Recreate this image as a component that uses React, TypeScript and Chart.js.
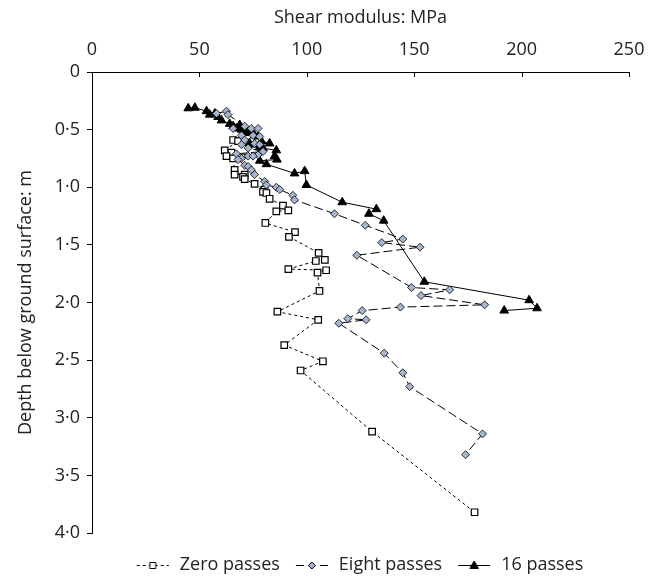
import { useEffect, useRef } from 'react';
import { Chart, registerables } from 'chart.js';

Chart.register(...registerables);

// ---- data (Shear modulus in MPa, depth in m) ----
const zeroModulus = [65.7, 68, 61.8, 64.9, 62.6, 65.7, 66.4, 66.4, 71.1, 70.3, 71.1, 75.7, 80.4, 79.6, 81.2, 82.7, 88.9, 91.4, 85.8, 80.7, 94.5, 91.7, 105.5, 108.4, 104.2, 91.4, 109, 105, 105.9, 86.3, 105.3, 89.5, 107.5, 97.1, 130.4, 178.1];
const zeroDepth = [0.59, 0.6, 0.68, 0.7, 0.73, 0.75, 0.85, 0.89, 0.89, 0.91, 0.93, 0.97, 1.02, 1.04, 1.05, 1.1, 1.16, 1.2, 1.21, 1.31, 1.39, 1.43, 1.57, 1.63, 1.64, 1.71, 1.72, 1.74, 1.9, 2.08, 2.15, 2.37, 2.51, 2.59, 3.12, 3.82];

const eightModulus = [58, 62.6, 63.3, 71.1, 65.7, 74.2, 77.3, 69.6, 75, 78.1, 71.1, 75.7, 69.6, 78.1, 72.7, 79.6, 67.2, 77.3, 72.7, 75, 69.6, 68, 71.1, 72.7, 74.2, 75.7, 80.4, 81.2, 85.8, 87.4, 93.5, 94.3, 112.9, 127.2, 144.7, 134.9, 152.7, 123.3, 148.8, 166.5, 153.2, 182.8, 143.6, 125.8, 119.1, 127.6, 114.9, 136, 144.7, 147.9, 181.8, 173.9];
const eightDepth = [0.36, 0.34, 0.37, 0.47, 0.49, 0.49, 0.49, 0.55, 0.55, 0.56, 0.59, 0.62, 0.63, 0.63, 0.66, 0.69, 0.71, 0.72, 0.73, 0.73, 0.75, 0.76, 0.81, 0.82, 0.85, 0.89, 0.95, 0.98, 1.0, 1.02, 1.07, 1.11, 1.23, 1.33, 1.45, 1.48, 1.52, 1.59, 1.87, 1.89, 1.94, 2.02, 2.04, 2.07, 2.14, 2.15, 2.18, 2.44, 2.61, 2.73, 3.14, 3.32];

const sixteenModulus = [44.8, 47.9, 53.3, 57.2, 54.8, 58.7, 60.3, 64.1, 68.8, 65.7, 67.2, 69.6, 71.9, 74.2, 75.7, 77.3, 78.9, 82.7, 73.4, 75.7, 78.1, 79.6, 85.8, 85, 86.1, 78.1, 81.2, 94.3, 99, 99.8, 116.5, 132.4, 128.9, 135.8, 154.7, 203.5, 207.2, 191.9];
const sixteenDepth = [0.315, 0.31, 0.34, 0.36, 0.37, 0.39, 0.42, 0.45, 0.46, 0.47, 0.49, 0.5, 0.52, 0.53, 0.55, 0.56, 0.6, 0.62, 0.62, 0.63, 0.65, 0.66, 0.68, 0.73, 0.76, 0.77, 0.8, 0.88, 0.86, 0.98, 1.13, 1.19, 1.23, 1.29, 1.82, 1.98, 2.05, 2.07];

const seriesNames = ['Zero passes', 'Eight passes', '16 passes'];
const modulusTicks = [0, 50, 100, 150, 200, 250];
const depthTicks = [0, 0.5, 1, 1.5, 2, 2.5, 3, 3.5, 4];

const xTitle = 'Shear modulus: MPa';
const yTitle = 'Depth below ground surface: m';

// ---- styling ----
const FONT = "'Open Sans', 'Noto Sans', sans-serif";
const TEXT = '#222222';
const DIAMOND_FILL = '#a6b5cf';
const W = 649;
const H = 577;
const AREA_LEFT = 92;
const AREA_TOP = 72;
const AREA_RIGHT = 629;
const AREA_BOTTOM = 533;
const LEGEND_CENTER = 565;
const LEGEND_MID_X = 359;
const FONT_SIZE = 18;
const LEGEND_PAD = 14;

const toPoints = (xs: number[], ys: number[]) => xs.map((x, i) => ({ x, y: ys[i] }));

function drawMarker(ctx: CanvasRenderingContext2D, kind: number, cx: number, cy: number, r: number) {
  ctx.setLineDash([]);
  ctx.lineWidth = 1;
  ctx.strokeStyle = '#000';
  ctx.beginPath();
  if (kind === 0) {
    ctx.rect(cx - r, cy - r, 2 * r, 2 * r);
    ctx.fillStyle = '#fff';
  } else if (kind === 1) {
    ctx.moveTo(cx, cy - r);
    ctx.lineTo(cx + r, cy);
    ctx.lineTo(cx, cy + r);
    ctx.lineTo(cx - r, cy);
    ctx.closePath();
    ctx.fillStyle = DIAMOND_FILL;
  } else {
    ctx.moveTo(cx, cy - r);
    ctx.lineTo(cx + r * 0.95, cy + r * 0.65);
    ctx.lineTo(cx - r * 0.95, cy + r * 0.65);
    ctx.closePath();
    ctx.fillStyle = '#000';
  }
  ctx.fill();
  ctx.stroke();
}

function makeSample(kind: number): HTMLCanvasElement {
  const c = document.createElement('canvas');
  c.width = 36;
  c.height = 14;
  const ctx = c.getContext('2d') as CanvasRenderingContext2D;
  ctx.strokeStyle = '#000';
  ctx.lineWidth = 1;
  ctx.setLineDash(kind === 0 ? [3, 3] : kind === 1 ? [8, 4] : []);
  ctx.beginPath();
  ctx.moveTo(2, 7.5);
  ctx.lineTo(34, 7.5);
  ctx.stroke();
  drawMarker(ctx, kind, 18, 7.5, kind === 0 ? 3 : kind === 1 ? 3.5 : 4.5);
  return c;
}

const depthLabel = (v: number) => (v === 0 ? '0' : v.toFixed(1).replace('.', '\u00B7'));

export default function App() {
  const ref = useRef<HTMLCanvasElement>(null);

  useEffect(() => {
    const canvas = ref.current;
    if (!canvas) return;

    const samples = [makeSample(0), makeSample(1), makeSample(2)];

    const layoutPlugin = {
      id: 'fixedLayout',
      beforeLayout(chart: any) {
        const legend = chart.legend;
        if (legend && !legend.__patched) {
          const orig = legend.fit.bind(legend);
          legend.fit = function () {
            orig();
            this.height = H - AREA_BOTTOM;
          };
          legend.__patched = true;
        }
      },
      afterLayout(chart: any) {
        const legend = chart.legend;
        if (!legend) return;
        const desiredTop = LEGEND_CENTER - FONT_SIZE / 2 - LEGEND_PAD;
        const dy = desiredTop - legend.top;
        legend.top += dy;
        legend.bottom += dy;
        const dx = LEGEND_MID_X - (legend.left + legend.right) / 2;
        legend.left += dx;
        legend.right += dx;
      },
      afterDraw(chart: any) {
        const xs = chart.scales.x;
        const ctx = chart.ctx as CanvasRenderingContext2D;
        const top = chart.chartArea.top;
        ctx.save();
        ctx.strokeStyle = '#000';
        ctx.lineWidth = 1;
        ctx.beginPath();
        modulusTicks.forEach((v) => {
          const px = Math.round(xs.getPixelForValue(v)) + 0.5;
          ctx.moveTo(px, top);
          ctx.lineTo(px, top + 5);
        });
        ctx.stroke();
        ctx.restore();
      },
    };

    const chart = new Chart(canvas, {
      type: 'scatter',
      data: {
        datasets: [
          {
            label: seriesNames[0],
            data: toPoints(zeroModulus, zeroDepth),
            showLine: true,
            borderColor: '#000',
            borderWidth: 1,
            borderDash: [3, 3],
            pointStyle: 'rect',
            pointRadius: 4.6,
            pointBackgroundColor: '#fff',
            pointBorderColor: '#000',
            pointBorderWidth: 1.2,
            order: 1,
          },
          {
            label: seriesNames[1],
            data: toPoints(eightModulus, eightDepth),
            showLine: true,
            borderColor: '#000',
            borderWidth: 1,
            borderDash: [9, 4],
            pointStyle: 'rectRot',
            pointRadius: 4,
            pointBackgroundColor: DIAMOND_FILL,
            pointBorderColor: '#000',
            pointBorderWidth: 0.8,
            order: 0,
          },
          {
            label: seriesNames[2],
            data: toPoints(sixteenModulus, sixteenDepth),
            showLine: true,
            borderColor: '#000',
            borderWidth: 1,
            pointStyle: 'triangle',
            pointRadius: 5,
            pointBackgroundColor: '#000',
            pointBorderColor: '#000',
            pointBorderWidth: 1,
            order: 2,
          },
        ],
      },
      options: {
        responsive: false,
        animation: false,
        layout: { padding: { left: 0, top: 0, right: W - AREA_RIGHT, bottom: 0 } },
        font: { family: FONT },
        scales: {
          x: {
            type: 'linear',
            position: 'top',
            min: 0,
            max: 250,
            afterBuildTicks: (s: any) => {
              s.ticks = modulusTicks.map((v) => ({ value: v }));
            },
            afterFit: (s: any) => {
              s.height = AREA_TOP;
            },
            grid: { display: false },
            border: { display: true, color: '#000', width: 1 },
            ticks: {
              color: TEXT,
              font: { family: FONT, size: FONT_SIZE },
              padding: 3,
              maxRotation: 0,
              callback: (v: any) => String(v),
            },
            title: {
              display: true,
              text: xTitle,
              color: TEXT,
              font: { family: FONT, size: FONT_SIZE },
              padding: { top: 7, bottom: 0 },
            },
          },
          y: {
            type: 'linear',
            reverse: true,
            min: 0,
            max: 4,
            afterBuildTicks: (s: any) => {
              s.ticks = depthTicks.map((v) => ({ value: v }));
            },
            afterFit: (s: any) => {
              s.width = AREA_LEFT;
            },
            grid: {
              display: true,
              drawOnChartArea: false,
              drawTicks: true,
              tickLength: 5,
              color: '#000',
              lineWidth: 1,
            },
            border: { display: true, color: '#000', width: 1 },
            ticks: {
              color: TEXT,
              font: { family: FONT, size: FONT_SIZE },
              padding: 7,
              callback: (v: any) => depthLabel(Number(v)),
            },
            title: {
              display: true,
              text: yTitle,
              color: TEXT,
              font: { family: FONT, size: FONT_SIZE },
              padding: { top: 15, bottom: 0 },
            },
          },
        },
        plugins: {
          tooltip: { enabled: false },
          legend: {
            display: true,
            position: 'bottom',
            labels: {
              usePointStyle: true,
              pointStyleWidth: 36,
              padding: LEGEND_PAD,
              color: TEXT,
              font: { family: FONT, size: FONT_SIZE },
              generateLabels: () =>
                seriesNames.map((name, i) => ({
                  text: name,
                  pointStyle: samples[i] as any,
                  datasetIndex: i,
                  hidden: false,
                  lineWidth: 0,
                  fillStyle: 'transparent',
                  strokeStyle: 'transparent',
                  fontColor: TEXT,
                })),
            },
          },
        },
      } as any,
      plugins: [layoutPlugin],
    });

    return () => chart.destroy();
  }, []);

  return (
    <canvas
      ref={ref}
      width={W}
      height={H}
      style={{ position: 'absolute', left: 0, top: 0, width: W, height: H, display: 'block' }}
    />
  );
}
